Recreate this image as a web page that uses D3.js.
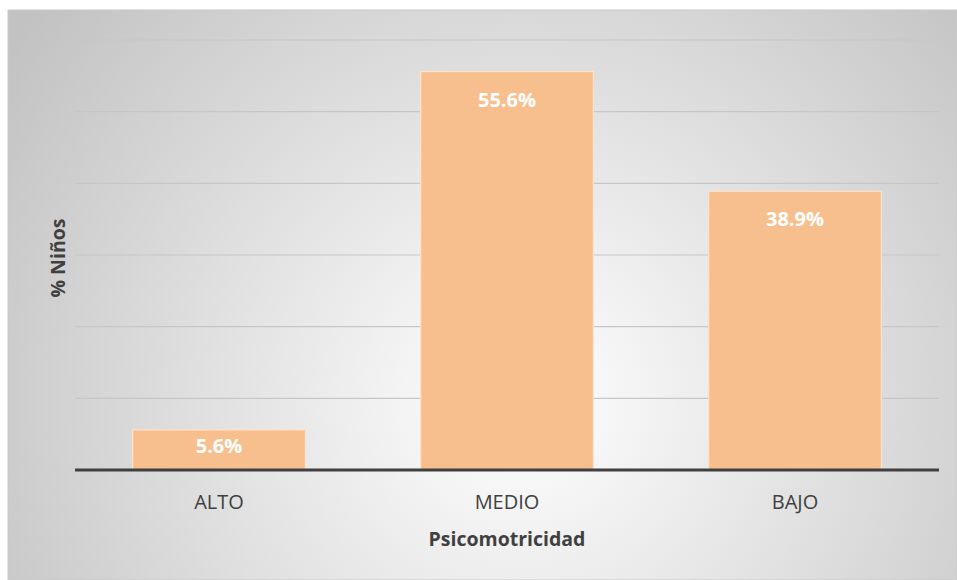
<!DOCTYPE html>
<html><head><meta charset="utf-8">
<script src="https://cdn.jsdelivr.net/npm/d3@7"></script>
<style>html,body{margin:0;padding:0;background:#fff;}svg{display:block;}</style>
</head><body>
<svg id="chart" width="957" height="580"></svg>
<script>
const categories = ["ALTO", "MEDIO", "BAJO"];
const values = [5.6, 55.6, 38.9];
const yTicks = [0, 10, 20, 30, 40, 50, 60];
const xTitle = "Psicomotricidad";
const yTitle = "% Niños";

const svg = d3.select("#chart");
const W = 957, H = 580;
const margin = {left: 75, right: 18, top: 40, bottom: 110};
const font = "Open Sans, sans-serif";

const defs = svg.append("defs");
const rg = defs.append("radialGradient").attr("id", "bg")
  .attr("gradientUnits", "userSpaceOnUse")
  .attr("cx", 520).attr("cy", 400).attr("r", 620);
rg.append("stop").attr("offset", "0%").attr("stop-color", "#ffffff");
rg.append("stop").attr("offset", "100%").attr("stop-color", "#c2c2c2");

svg.append("rect").attr("x", 8).attr("y", 10).attr("width", W - 8).attr("height", H - 10)
  .attr("fill", "url(#bg)").attr("stroke", "#c8c8c8").attr("stroke-width", 1);

const x = d3.scaleBand().domain(categories).range([margin.left, W - margin.right])
  .paddingInner(0.4).paddingOuter(0.2);
const y = d3.scaleLinear().domain([0, 60]).range([470, margin.top]);

// gridlines
svg.append("g").selectAll("line").data(yTicks.filter(d => d > 0)).join("line")
  .attr("x1", margin.left).attr("x2", W - margin.right)
  .attr("y1", d => y(d)).attr("y2", d => y(d))
  .attr("stroke", "#c6c6c6").attr("stroke-width", 1.2);

// bars
svg.append("g").selectAll("rect").data(values).join("rect")
  .attr("x", (d, i) => x(categories[i]))
  .attr("width", x.bandwidth())
  .attr("y", d => y(d))
  .attr("height", d => y(0) - y(d))
  .attr("fill", "#f8bf8e")
  .attr("stroke", "#fde3cc").attr("stroke-width", 1.2);

// value labels
svg.append("g").selectAll("text").data(values).join("text")
  .attr("x", (d, i) => x(categories[i]) + x.bandwidth() / 2)
  .attr("y", d => y(d) + Math.min(35, (y(0) - y(d)) / 2 + 3))
  .attr("text-anchor", "middle")
  .attr("font-family", font).attr("font-weight", "bold")
  .attr("font-size", 20).attr("fill", "#ffffff")
  .text(d => d.toFixed(1) + "%");

// baseline axis
const xAxis = d3.axisBottom(x).tickSize(0).tickPadding(25);
const gx = svg.append("g").attr("transform", `translate(0,${y(0)})`).call(xAxis);
gx.select(".domain").attr("stroke", "#404040").attr("stroke-width", 3)
  .attr("d", `M${margin.left},0H${W - margin.right}`);
gx.selectAll("text").attr("font-family", font).attr("font-size", 20)
  .attr("fill", "#404040");

svg.append("text").attr("x", (margin.left + W - margin.right) / 2).attr("y", 546)
  .attr("text-anchor", "middle").attr("font-family", font)
  .attr("font-weight", "bold").attr("font-size", 19.5).attr("fill", "#404040").text(xTitle);

svg.append("text").attr("transform", `translate(65,258) rotate(-90)`)
  .attr("text-anchor", "middle").attr("font-family", font)
  .attr("font-weight", "bold").attr("font-size", 19.5).attr("fill", "#404040").text(yTitle);
</script>
</body></html>
